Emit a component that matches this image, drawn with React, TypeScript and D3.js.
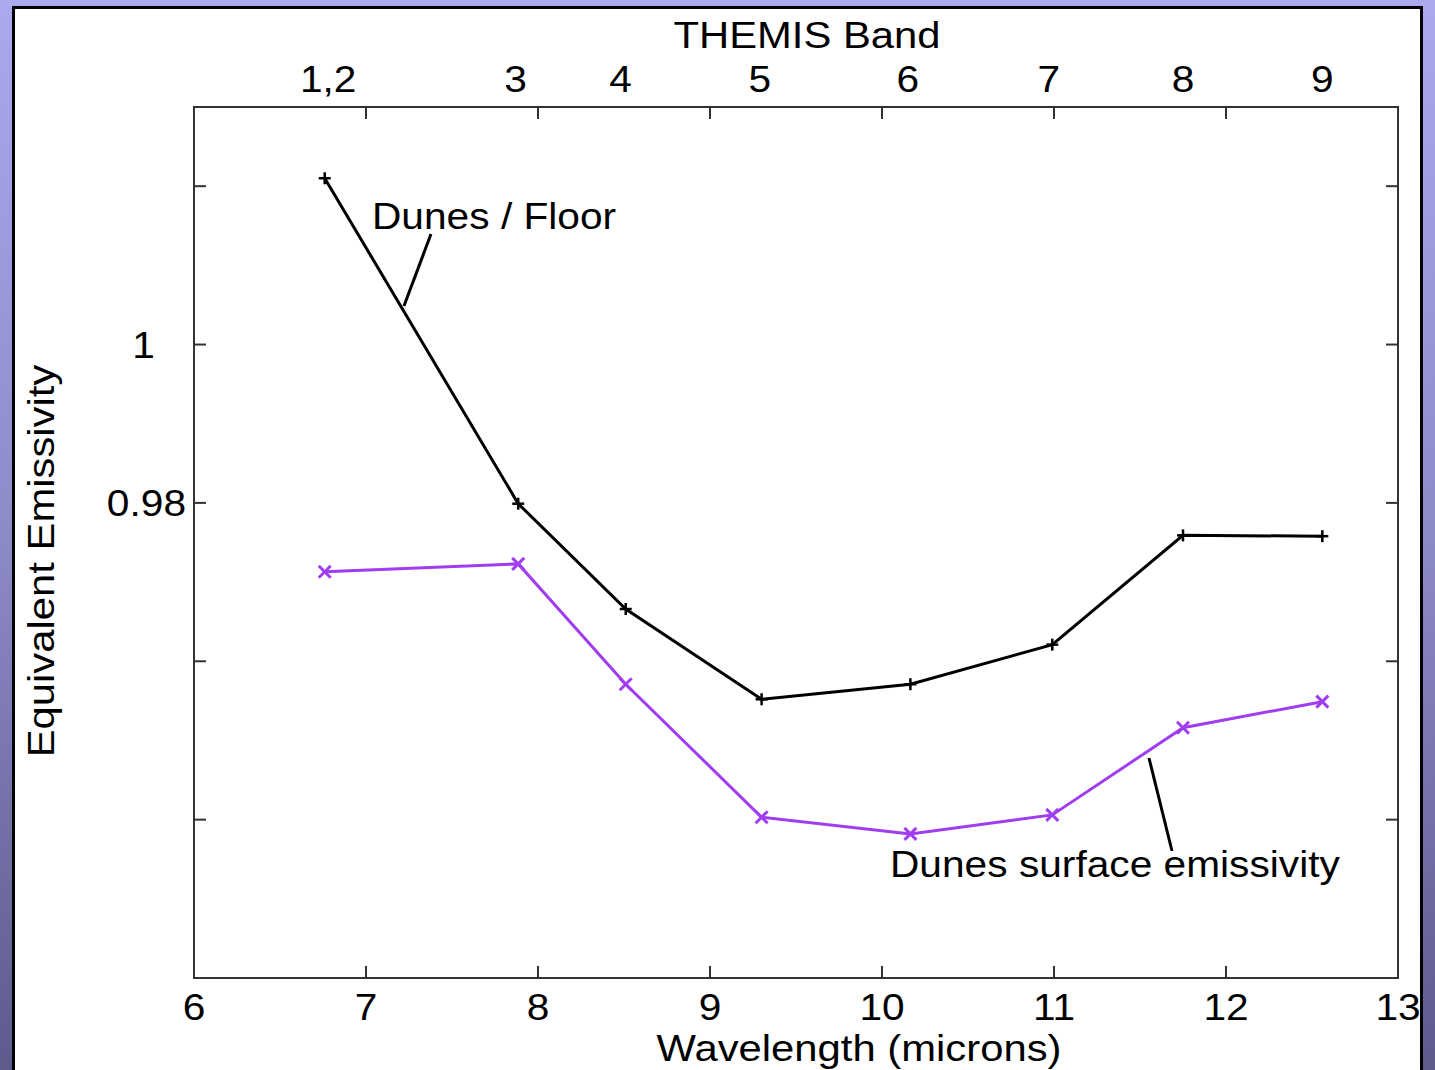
import React from "react";
import * as d3 from "d3";

const wavelengths = [6.76, 7.885, 8.51, 9.3, 10.165, 10.99, 11.75, 12.56];
const bandLabels = ["1,2", "3", "4", "5", "6", "7", "8", "9"];
const bandLabelPos = [6.78, 7.87, 8.48, 9.29, 10.15, 10.97, 11.75, 12.56];
const dunesFloor = [1.021, 0.9799, 0.9666, 0.9552, 0.9571, 0.9621, 0.9759, 0.9758];
const dunesSurface = [0.9713, 0.9723, 0.9571, 0.9403, 0.9382, 0.9406, 0.9516, 0.9549];
const xTicks = [6, 7, 8, 9, 10, 11, 12, 13];
const yTicks = [0.94, 0.96, 0.98, 1.0, 1.02];
const yTickLabels: Record<string, string> = { "0.98": "0.98", "1": "1" };

const W = 1435;
const H = 1070;
const M = { left: 194, top: 107, right: 1398, bottom: 978 };
const FONT = "Liberation Sans, Arial, sans-serif";
const SX = 1.13;

function T(props: {
  x: number;
  y: number;
  size: number;
  anchor?: "start" | "middle" | "end";
  rotate?: number;
  dy?: string;
  children: React.ReactNode;
}) {
  const { x, y, size, anchor = "start", rotate = 0, dy, children } = props;
  return (
    <text
      transform={`translate(${x},${y}) rotate(${rotate}) scale(${SX},1)`}
      fontSize={size}
      textAnchor={anchor}
      dy={dy}
      fill="#000"
    >
      {children}
    </text>
  );
}

export default function App() {
  const x = d3.scaleLinear().domain([6, 13]).range([M.left, M.right]);
  const y = d3.scaleLinear().domain([0.92, 1.03]).range([M.bottom, M.top]);
  const line = d3
    .line<[number, number]>()
    .x((d) => x(d[0]))
    .y((d) => y(d[1]));
  const blackPts: [number, number][] = wavelengths.map((w, i) => [w, dunesFloor[i]]);
  const purplePts: [number, number][] = wavelengths.map((w, i) => [w, dunesSurface[i]]);
  const purple = "#a13df0";
  const tickLen = 12;

  return (
    <svg
      width={W}
      height={H}
      style={{ position: "absolute", left: 0, top: 0, display: "block" }}
      fontFamily={FONT}
    >
      <defs>
        <linearGradient id="bg" x1="0" y1="0" x2="0" y2="1">
          <stop offset="0" stopColor="#aba9ef" />
          <stop offset="0.5" stopColor="#8d8ac8" />
          <stop offset="1" stopColor="#5d5a8c" />
        </linearGradient>
      </defs>
      <rect x={0} y={0} width={W} height={H} fill="url(#bg)" />
      <rect x={13.5} y={7.5} width={1408} height={1080} fill="#fff" stroke="#000" strokeWidth={3} />

      {/* plot frame */}
      <rect
        x={M.left}
        y={M.top}
        width={M.right - M.left}
        height={M.bottom - M.top}
        fill="none"
        stroke="#333"
        strokeWidth={2}
      />

      {/* x ticks bottom & top */}
      {xTicks.map((t) => (
        <g key={"xt" + t}>
          {t > 6 && t < 13 && (
            <>
              <line x1={x(t)} x2={x(t)} y1={M.bottom} y2={M.bottom - tickLen} stroke="#333" strokeWidth={2} />
              <line x1={x(t)} x2={x(t)} y1={M.top} y2={M.top + tickLen} stroke="#333" strokeWidth={2} />
            </>
          )}
          <T x={x(t)} y={1020} size={36} anchor="middle">
            {t}
          </T>
        </g>
      ))}

      {/* y ticks left & right */}
      {yTicks.map((t) => {
        const key = String(+t.toFixed(2));
        return (
          <g key={"yt" + t}>
            <line x1={M.left} x2={M.left + tickLen} y1={y(t)} y2={y(t)} stroke="#333" strokeWidth={2} />
            <line x1={M.right} x2={M.right - tickLen} y1={y(t)} y2={y(t)} stroke="#333" strokeWidth={2} />
            {yTickLabels[key] && (
              <T x={key === "1" ? 155 : 186} y={y(t)} dy="0.36em" size={36} anchor="end">
                {yTickLabels[key]}
              </T>
            )}
          </g>
        );
      })}

      {/* top band labels */}
      {bandLabels.map((b, i) => (
        <T key={"b" + b} x={x(bandLabelPos[i])} y={92} size={36} anchor="middle">
          {b}
        </T>
      ))}
      <T x={807} y={48} size={37} anchor="middle">
        THEMIS Band
      </T>

      {/* axis titles */}
      <T x={859} y={1061} size={37} anchor="middle">
        Wavelength (microns)
      </T>
      <text
        transform={`translate(54, 561) rotate(-90) scale(${SX},1)`}
        fontSize={37}
        textAnchor="middle"
        fill="#000"
      >
        Equivalent Emissivity
      </text>

      {/* lines */}
      <path d={line(blackPts) || ""} fill="none" stroke="#000" strokeWidth={3} />
      <path d={line(purplePts) || ""} fill="none" stroke={purple} strokeWidth={3} />

      {/* markers */}
      {blackPts.map((d, i) => (
        <g key={"bp" + i} stroke="#000" strokeWidth={2.5}>
          <line x1={x(d[0]) - 6} x2={x(d[0]) + 6} y1={y(d[1])} y2={y(d[1])} />
          <line x1={x(d[0])} x2={x(d[0])} y1={y(d[1]) - 6} y2={y(d[1]) + 6} />
        </g>
      ))}
      {purplePts.map((d, i) => (
        <g key={"pp" + i} stroke={purple} strokeWidth={3}>
          <line x1={x(d[0]) - 6} x2={x(d[0]) + 6} y1={y(d[1]) - 6} y2={y(d[1]) + 6} />
          <line x1={x(d[0]) - 6} x2={x(d[0]) + 6} y1={y(d[1]) + 6} y2={y(d[1]) - 6} />
        </g>
      ))}

      {/* annotations */}
      <T x={372} y={229} size={36}>
        Dunes / Floor
      </T>
      <line x1={431} y1={234} x2={404} y2={306} stroke="#000" strokeWidth={3} />
      <T x={890} y={877} size={36}>
        Dunes surface emissivity
      </T>
      <line x1={1149} y1={758} x2={1172} y2={851} stroke="#000" strokeWidth={3} />
    </svg>
  );
}
